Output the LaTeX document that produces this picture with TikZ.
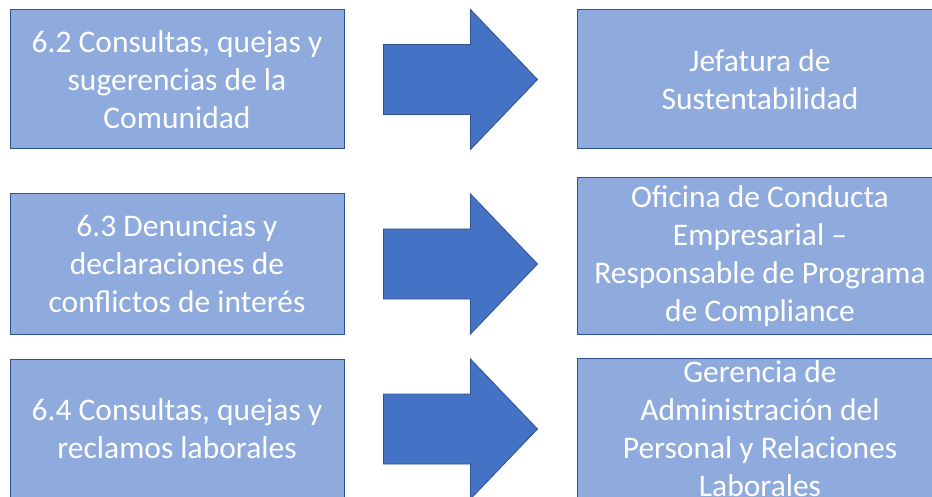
\documentclass[tikz,border=0pt]{standalone}
\usepackage{fontspec}
\setmainfont{Carlito}
\usetikzlibrary{calc}
\definecolor{BoxBlue}{RGB}{143,170,220}
\definecolor{EdgeBlue}{RGB}{47,82,143}
\definecolor{ArrowBlue}{RGB}{68,114,196}
\newcommand{\blockarrow}[2]{%
  \coordinate (mid) at ($(#1.east)!0.5!(#1.east -| #2.west)$);
  \filldraw[fill=ArrowBlue,draw=EdgeBlue,line width=0.8pt] (mid) ++(-77,-35)
    -- ++(87,0) -- ++(0,-35) -- ++(67,70) -- ++(-67,70) -- ++(0,-35)
    -- ++(-87,0) -- cycle;}

\begin{document}
\begin{tikzpicture}[x=1pt,y=-1pt,
  box/.style={draw=EdgeBlue,line width=1pt,fill=BoxBlue,text=white,
    align=center,inner sep=0pt,minimum width=334pt,minimum height=139pt,
    font=\fontsize{31.5}{38}\selectfont},
  unit/.style={box,minimum width=366pt}]
  \clip (0,0) rectangle (932,497);
  \fill[white] (0,0) rectangle (932,497);
  % canales
  \node[box] (consultas) at (177,79.5) {6.2 Consultas, quejas y\\sugerencias de la\\Comunidad};
  \node[box,minimum height=140pt] (denuncias) at (177,264) {6.3 Denuncias y\\declaraciones de\\conflictos de interés};
  \node[box,minimum height=140pt] (laborales) at (177,429) {6.4 Consultas, quejas y\\reclamos laborales};
  % responsables
  \node[unit] (jefatura) at (760,79.5) {Jefatura de\\Sustentabilidad};
  \node[unit,minimum height=156pt] (oficina) at (760,256) {Oficina de Conducta\\Empresarial –\\Responsable de Programa\\de Compliance};
  \node[unit,minimum height=142pt] (gerencia) at (760,429) {Gerencia de\\Administración del\\Personal y Relaciones\\Laborales};
  \blockarrow{consultas}{jefatura}
  \blockarrow{denuncias}{oficina}
  \blockarrow{laborales}{gerencia}
\end{tikzpicture}
\end{document}
